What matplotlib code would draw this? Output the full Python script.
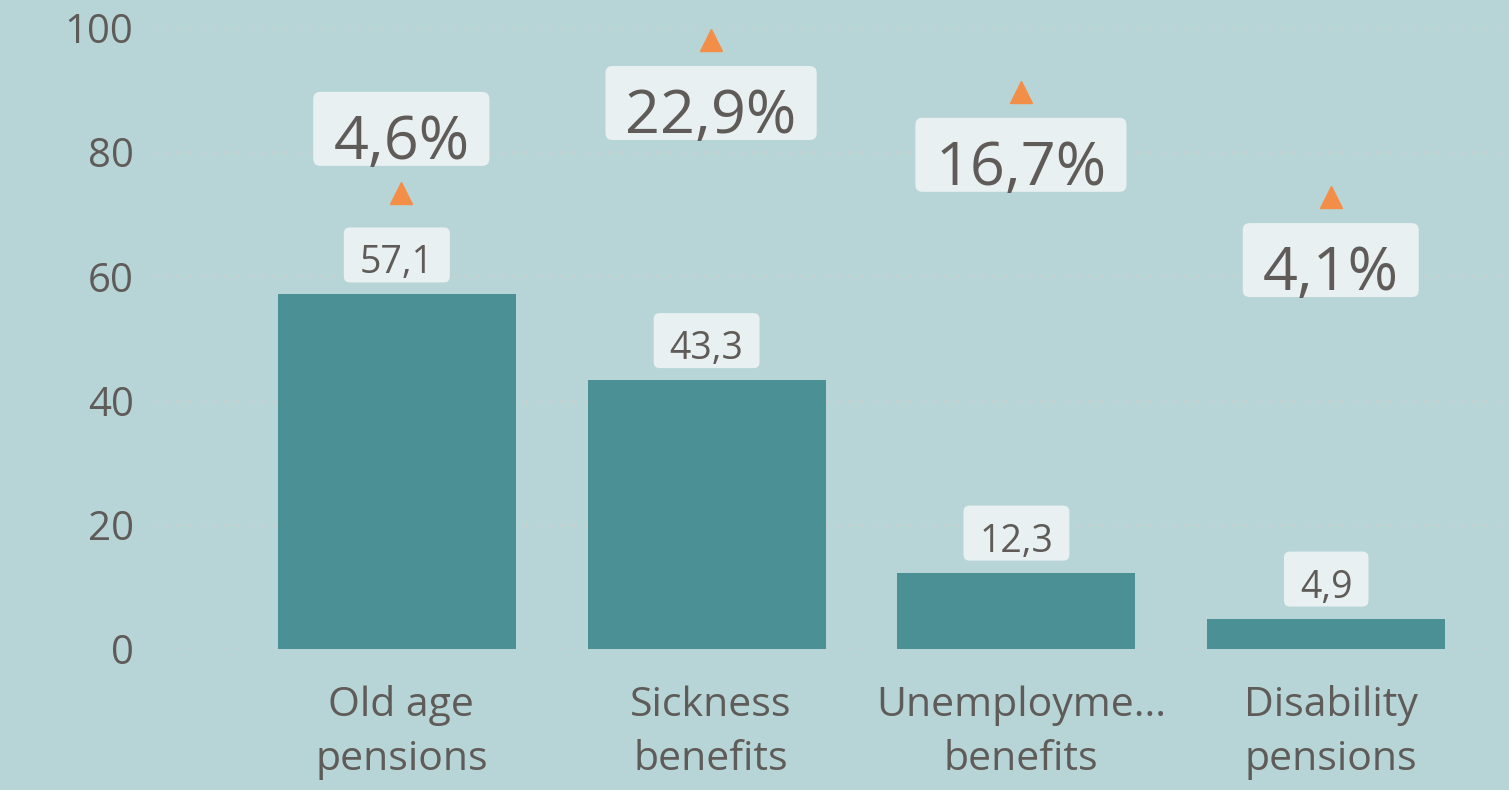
import matplotlib
matplotlib.use("Agg")
import matplotlib.pyplot as plt
from matplotlib.patches import FancyBboxPatch
from matplotlib.transforms import IdentityTransform, offset_copy, ScaledTranslation

categories = ["Old age\npensions", "Sickness\nbenefits", "Unemployme...\nbenefits", "Disability\npensions"]
values = [57.1, 43.3, 12.3, 4.9]
value_labels = ["57,1", "43,3", "12,3", "4,9"]
changes = [4.6, 22.9, 16.7, 4.1]
change_labels = ["4,6%", "22,9%", "16,7%", "4,1%"]
yticks = [0, 20, 40, 60, 80, 100]

BG = "#b7d5d7"
BAR = "#4a9094"
TXT = "#5f5b59"
BOX = "#e8f0f1"
TRI = "#f28e48"
GRID = "#d3cccc"
FONT = "Open Sans"

plt.rcParams["font.family"] = [FONT, "DejaVu Sans"]

W, H, DPI = 1509, 790, 100
fig = plt.figure(figsize=(W / DPI, H / DPI), dpi=DPI, facecolor=BG)
ax = fig.add_axes([153 / W, (H - 649) / H, 1 - 153 / W, (649 - 28) / H])
ax.set_facecolor(BG)

x = list(range(len(categories)))
ax.bar(x, values, width=0.768, color=BAR, zorder=2)
ax.set_xlim(-0.787, 3.59)
ax.set_ylim(0, 100)
ax.set_yticks(yticks)
ax.set_yticklabels([str(t) for t in yticks])
ax.set_xticks(x)
ax.set_xticklabels(categories, linespacing=1.45)
ax.tick_params(axis="y", length=0, pad=14, labelsize=29, labelcolor=TXT)
ax.tick_params(axis="x", length=0, pad=26, labelsize=29.5, labelcolor=TXT)
for lbl in ax.get_xticklabels():
    lbl.set_transform(lbl.get_transform() + ScaledTranslation(4.5 / DPI, 0, fig.dpi_scale_trans))
for s in ax.spines.values():
    s.set_visible(False)
ax.grid(axis="y", color=GRID, linestyle=(0, (1, 3.8)), linewidth=1.8, zorder=0)
ax.set_axisbelow(True)

ax2 = ax.twinx()
ax2.set_ylim(-50, 24.34)
ax2.axis("off")
shift = offset_copy(ax2.transData, fig=fig, x=4.5, y=0, units="dots")
ax2.plot(x, changes, linestyle="none", marker="^", markersize=16.5, color=TRI,
         zorder=4, transform=shift)

fig.canvas.draw()
renderer = fig.canvas.get_renderer()


def boxed_label(px, py, text, size, padx, below, above, rs):
    t = fig.text(px, py, text, transform=IdentityTransform(), ha="center",
                 va="baseline", fontsize=size, color=TXT, zorder=10)
    bb = t.get_window_extent(renderer)
    patch = FancyBboxPatch((bb.x0 - padx, py - below), bb.width + 2 * padx, below + above,
                           boxstyle=f"round,pad=0,rounding_size={rs}",
                           transform=IdentityTransform(), fc=BOX, ec="none", zorder=9)
    fig.add_artist(patch)


# bar value labels
for xi, v, lab in zip(x, values, value_labels):
    px, py = ax.transData.transform((xi, v))
    boxed_label(px, py + 21, lab, 27, 16, 9, 46, 6)

# change labels (above the marker when below would run into the bar label)
for xi, c, v, lab in zip(x, changes, values, change_labels):
    px, py = shift.transform((xi, c))
    _, bar_py = ax.transData.transform((xi, v))
    if py - 100 < bar_py + 80:
        boxed_label(px, py + 34, lab, 44, 20, 7, 67, 7)
    else:
        boxed_label(px, py - 93, lab, 44, 20, 7, 67, 7)

fig.savefig("out.png", dpi=DPI, facecolor=BG)
